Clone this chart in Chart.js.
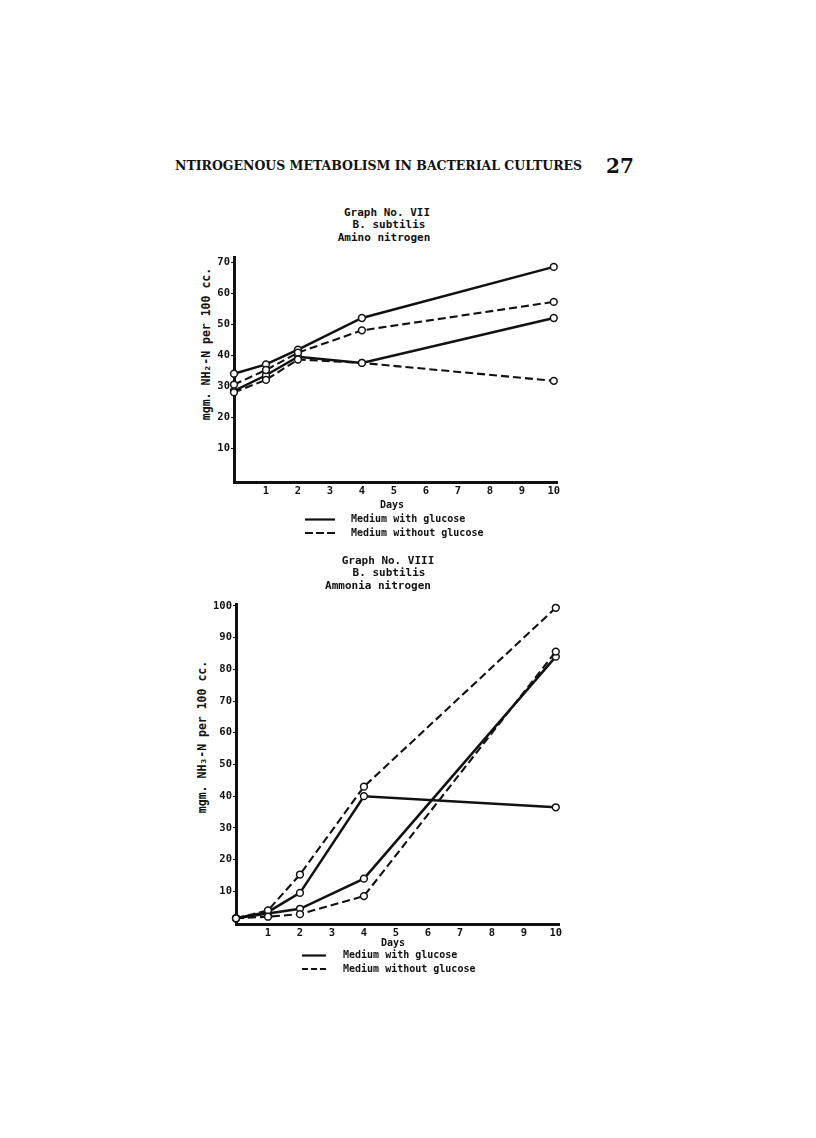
<!DOCTYPE html>
<html>
<head>
<meta charset="utf-8">
<script src="https://cdn.jsdelivr.net/npm/chart.js@4"></script>
<style>
  body { margin: 0; background: #fff; }
  #page { position: relative; width: 816px; height: 1138px; background: #fff; color: #111; overflow: hidden; }
  .t { position: absolute; white-space: nowrap; font-family: "DejaVu Sans Mono", monospace; font-weight: bold; font-size: 11px; line-height: 1; }
  .c { transform: translate(-50%, -50%); }
  .ylab { position: absolute; white-space: nowrap; font-family: "DejaVu Sans Mono", monospace; font-weight: bold; font-size: 11.5px; transform: translate(-50%, -50%) rotate(-90deg); }
  .leg { font-size: 10px; }
  #head { position: absolute; left: 175px; top: 159px; font-family: "DejaVu Serif", serif; font-weight: bold; font-size: 12px; white-space: nowrap; transform-origin: 0 0; }
  #pnum { position: absolute; left: 606px; top: 154px; font-family: "DejaVu Serif", serif; font-size: 20px; font-weight: bold; }
  canvas { position: absolute; }
</style>
</head>
<body>
<div id="page">
  <div id="head">NTIROGENOUS METABOLISM IN BACTERIAL CULTURES</div>
  <div id="pnum">27</div>

  <div class="t c" style="left:387px; top:212px;">Graph No. VII</div>
  <div class="t c" style="left:389px; top:224px;">B. subtilis</div>
  <div class="t c" style="left:384px; top:237px;">Amino nitrogen</div>
  <div class="ylab" style="left:206px; top:344px;">mgm. NH₂-N per 100 cc.</div>
  <canvas id="aminoChart" width="390" height="252" style="left:190px; top:250px;"></canvas>
  <div class="t c leg" style="left:392px; top:505px;">Days</div>
  <svg style="position:absolute; left:300px; top:514px;" width="40" height="24">
    <line x1="5" y1="5.5" x2="35" y2="5.5" stroke="#111" stroke-width="2.2"/>
    <line x1="5" y1="19" x2="35" y2="19" stroke="#111" stroke-width="2.2" stroke-dasharray="8,3"/>
  </svg>
  <div class="t leg" style="left:351px; top:514px;">Medium with glucose</div>
  <div class="t leg" style="left:351px; top:528px;">Medium without glucose</div>

  <div class="t c" style="left:388px; top:560px;">Graph No. VIII</div>
  <div class="t c" style="left:389px; top:572px;">B. subtilis</div>
  <div class="t c" style="left:378px; top:585px;">Ammonia nitrogen</div>
  <div class="ylab" style="left:202px; top:737px;">mgm. NH₃-N per 100 cc.</div>
  <canvas id="ammoniaChart" width="390" height="349" style="left:190px; top:595px;"></canvas>
  <div class="t c leg" style="left:393px; top:943px;">Days</div>
  <svg style="position:absolute; left:297px; top:950px;" width="40" height="24">
    <line x1="5" y1="5.5" x2="29" y2="5.5" stroke="#111" stroke-width="2.2"/>
    <line x1="5" y1="19" x2="29" y2="19" stroke="#111" stroke-width="2.2" stroke-dasharray="6,3"/>
  </svg>
  <div class="t leg" style="left:343px; top:950px;">Medium with glucose</div>
  <div class="t leg" style="left:343px; top:964px;">Medium without glucose</div>
</div>

<script>
// sampling days and axis ticks
const days = [0, 1, 2, 4, 10];
const dayTicks = [1, 2, 3, 4, 5, 6, 7, 8, 9, 10];
const aminoTicks = [10, 20, 30, 40, 50, 60, 70];
const ammoniaTicks = [10, 20, 30, 40, 50, 60, 70, 80, 90, 100];

// Graph VII - amino nitrogen (mgm. per 100 cc.)
const aminoWithGlucoseA = [34, 37, 41.8, 52, 68.5];
const aminoWithGlucoseB = [28.5, 33.5, 39.5, 37.5, 52];
const aminoWithoutGlucoseA = [30.5, 35.2, 40.8, 48, 57.2];
const aminoWithoutGlucoseB = [28, 32, 38.6, 37.5, 31.7];

// Graph VIII - ammonia nitrogen (mgm. per 100 cc.)
const ammoniaWithGlucoseA = [1.5, 3.5, 9.5, 40, 36.5];
const ammoniaWithGlucoseB = [1.5, 3, 4.5, 14, 84];
const ammoniaWithoutGlucoseA = [1.5, 4, 15.3, 43, 99.4];
const ammoniaWithoutGlucoseB = [1.5, 2, 2.8, 8.5, 85.6];

// fit the running head to its printed width
const head = document.getElementById('head');
head.style.transform = 'scaleX(' + (407 / head.offsetWidth) + ')';

const ink = '#111';
const tickFont = { family: 'DejaVu Sans Mono', weight: 'bold', size: 10.5 };

const makeSeries = (values, dashed) => ({
    data: days.map((d, i) => ({ x: d, y: values[i] })),
    borderColor: ink,
    borderWidth: dashed ? 2.1 : 2.5,
    borderDash: dashed ? [8, 4] : [],
    pointRadius: 3.4,
    pointBorderWidth: 1.5,
    pointBackgroundColor: '#fff',
    pointBorderColor: ink,
    tension: 0,
    clip: false
});

const makeChart = (id, series, yTicks, yMin, yMax, yWidth, padTop, padRight) => {
    const ctx = document.getElementById(id).getContext('2d');
    return new Chart(ctx, {
        type: 'line',
        data: { datasets: series },
        options: {
            responsive: false,
            animation: false,
            devicePixelRatio: 1,
            layout: { padding: { top: padTop, right: padRight, left: 0, bottom: 0 } },
            plugins: { legend: { display: false }, tooltip: { enabled: false } },
            scales: {
                x: {
                    type: 'linear', min: 0, max: 10.1,
                    afterBuildTicks: (s) => { s.ticks = dayTicks.map(v => ({ value: v })); },
                    afterFit: (s) => { s.height = 20; },
                    ticks: { color: ink, font: tickFont, padding: 3, maxRotation: 0 },
                    grid: { display: true, drawOnChartArea: false, drawTicks: false },
                    border: { color: ink, width: 3 }
                },
                y: {
                    type: 'linear', min: yMin, max: yMax,
                    afterBuildTicks: (s) => { s.ticks = yTicks.map(v => ({ value: v })); },
                    afterFit: (s) => { s.width = yWidth; },
                    ticks: { color: ink, font: tickFont, padding: 1 },
                    grid: { display: true, drawOnChartArea: false, drawTicks: true, tickLength: 3, color: ink, tickWidth: 1 },
                    border: { color: ink, width: 3 }
                }
            }
        }
    });
};

makeChart('aminoChart', [
    makeSeries(aminoWithoutGlucoseB, true),
    makeSeries(aminoWithoutGlucoseA, true),
    makeSeries(aminoWithGlucoseB, false),
    makeSeries(aminoWithGlucoseA, false)
], aminoTicks, -0.97, 71.6, 44, 7, 23);

makeChart('ammoniaChart', [
    makeSeries(ammoniaWithoutGlucoseB, true),
    makeSeries(ammoniaWithoutGlucoseA, true),
    makeSeries(ammoniaWithGlucoseB, false),
    makeSeries(ammoniaWithGlucoseA, false)
], ammoniaTicks, -0.3, 100.6, 46, 9, 21);
</script>
</body>
</html>
